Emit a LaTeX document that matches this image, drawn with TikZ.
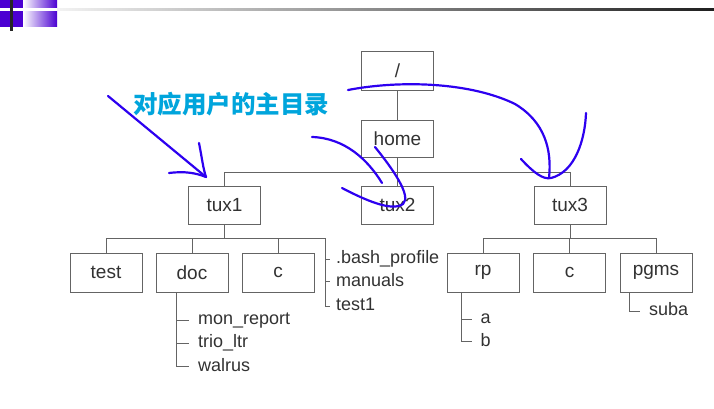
\documentclass[tikz,border=0pt]{standalone}
\usepackage{fontspec}
\setmainfont{Liberation Sans}
\newfontfamily\cjk{Noto Sans CJK SC}
\definecolor{boxline}{RGB}{100,100,100}
\definecolor{txt}{RGB}{50,50,50}
\definecolor{pen}{RGB}{45,0,240}
\definecolor{cyantext}{RGB}{0,165,220}
\definecolor{deco}{RGB}{75,0,210}
\begin{document}
\begin{tikzpicture}[x=1pt,y=-1pt,
  dirbox/.style={draw=boxline,line width=0.9pt,text=txt,inner sep=0pt,
    minimum width=72pt,minimum height=38pt,font=\fontsize{19}{22}\selectfont},
  leaf/.style={anchor=west,inner sep=0pt,text=txt,text height=12.6pt,text depth=3.6pt,
    font=\fontsize{18}{21}\selectfont},
  tree/.style={draw=boxline,line width=0.9pt},
  penstroke/.style={draw=pen,line width=2.2pt,line cap=round,line join=round}]
\fill[white] (0,0) rectangle (714,409);
\useasboundingbox (0,0) rectangle (714,409);
% top-left decoration
\fill[deco] (0,0) rectangle (23,27);
\shade[left color=white,right color=deco] (23,0) rectangle (57,27);
\fill[white] (0,8) rectangle (57,11);
\shade[left color=black!5,right color=black!88] (57,8.2) rectangle (714,10.6);
\fill[black!85] (10,0) rectangle (12.5,31);
% boxes
\node[dirbox,minimum height=39pt] (root) at (397.5,70.5) {/};
\node[dirbox,minimum height=37pt] (home) at (397.5,138.5) {home};
\node[dirbox] (tux1) at (224.5,205) {tux1};
\node[dirbox] (tux2) at (397.5,205) {tux2};
\node[dirbox] (tux3) at (570,205) {tux3};
\node[dirbox,minimum height=39pt] (test) at (106,272.5) {test};
\node[dirbox,minimum height=39pt] (doc) at (192,272.5) {doc};
\node[dirbox,minimum height=39pt] (c1) at (278,272.5) {c};
\node[dirbox,minimum height=39pt] (rp) at (483,272.5) {rp};
\node[dirbox,minimum height=39pt] (c2) at (569.5,272.5) {c};
\node[dirbox,minimum height=39pt] (pgms) at (656,272.5) {pgms};
% leaves
\node[leaf] (bash) at (336,259) {.bash\_profile};
\node[leaf] (manuals) at (336,281.7) {manuals};
\node[leaf] (test1) at (336,306) {test1};
\node[leaf] (mon) at (198,320) {mon\_report};
\node[leaf] (trio) at (198,343.3) {trio\_ltr};
\node[leaf] (walrus) at (198,366.7) {walrus};
\node[leaf] (a) at (480.5,319) {a};
\node[leaf] (b) at (480.5,341.7) {b};
\node[leaf] (suba) at (649,311) {suba};
% coordinates
\coordinate (bus1) at (0,172);
\coordinate (bus2) at (0,238.3);
\coordinate (bx) at (325,238.3);
\coordinate (dx) at (176.7,292);
\coordinate (rx) at (461.7,292);
\coordinate (px) at (629,292);
% tree lines
\draw[tree] (root.south) -- (home.north);
\draw[tree] (home.south) -- (tux2.north);
\draw[tree] (tux1.north) -- (tux1.north |- bus1) -- (tux3.north |- bus1) -- (tux3.north);
\draw[tree] (tux1.south) -- (tux1.south |- bus2);
\draw[tree] (test.north) -- (test.north |- bus2) -- (bx);
\draw[tree] (doc.north) -- (doc.north |- bus2);
\draw[tree] (c1.north) -- (c1.north |- bus2);
\draw[tree] (bx) |- ([xshift=-6pt]test1.west);
\draw[tree] (bx |- bash.west) -- ([xshift=-6pt]bash.west);
\draw[tree] (bx |- manuals.west) -- ([xshift=-6pt]manuals.west);
\draw[tree] (dx) |- ([xshift=-9pt]walrus.west);
\draw[tree] (dx |- mon.west) -- ([xshift=-9pt]mon.west);
\draw[tree] (dx |- trio.west) -- ([xshift=-9pt]trio.west);
\draw[tree] (tux3.south) -- (tux3.south |- bus2);
\draw[tree] (rp.north) -- (rp.north |- bus2) -- (pgms.north |- bus2) -- (pgms.north);
\draw[tree] (c2.north) -- (c2.north |- bus2);
\draw[tree] (rx) |- ([xshift=-9pt]b.west);
\draw[tree] (rx |- a.west) -- ([xshift=-9pt]a.west);
\draw[tree] (px) |- ([xshift=-9pt]suba.west);
% label
\node[text=cyantext,inner sep=0pt,anchor=west,font={\cjk\bfseries\fontsize{24.5}{26}\selectfont}] (lbl) at (133,104) {对应用户的主目录};
% pen strokes
\coordinate (p1s) at (108,96);
\coordinate (p1e) at (206,177);
\draw[penstroke] (p1s) -- (p1e);
\draw[penstroke] (199,143) .. controls (202,158) and (203,168) .. (p1e);
\draw[penstroke] (169,173) .. controls (185,171) and (196,173) .. (p1e);
\draw[penstroke] (312,137) .. controls (345,138) and (368,160) .. (382,183);
\draw[penstroke] (375,147) .. controls (392,168) and (412,196) .. (403,204) .. controls (392,212) and (365,200) .. (342,188);
\draw[penstroke] (348,90) .. controls (400,80) and (470,82) .. (515,104) .. controls (545,122) and (552,150) .. (549,178);
\draw[penstroke] (521,159) .. controls (533,172) and (543,180) .. (551,178) .. controls (575,172) and (585,140) .. (586,113);
\end{tikzpicture}
\end{document}
